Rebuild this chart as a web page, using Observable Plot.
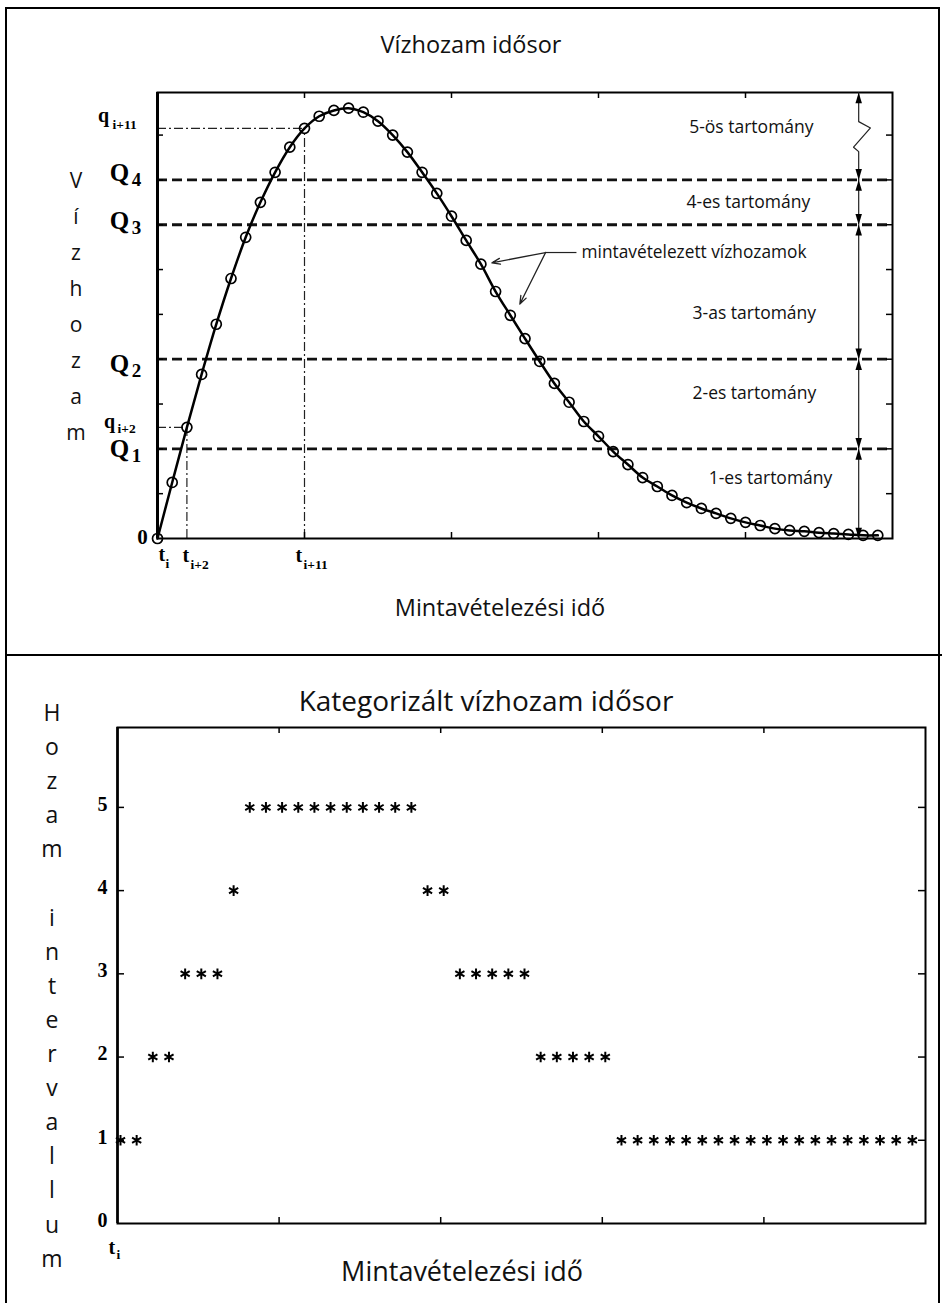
<!DOCTYPE html>
<html>
<head>
<meta charset="utf-8">
<script src="https://cdn.jsdelivr.net/npm/d3@7"></script>
<script src="https://cdn.jsdelivr.net/npm/@observablehq/plot@0.6"></script>
<style>
  body { margin: 0; background: #fff; }
  #page { position: relative; width: 942px; height: 1303px; overflow: hidden; background: #fff; font-family: "Open Sans", "Noto Sans", sans-serif; color: #111; }
  .line { position: absolute; background: #000; }
  .txt { position: absolute; white-space: nowrap; transform: translate(-50%, -50%); line-height: 1; }
  .plot { position: absolute; left: 0; }
</style>
</head>
<body>
<div id="page"></div>
<script>
// ---------------- data ----------------
const sampleIndex = [0,1,2,3,4,5,6,7,8,9,10,11,12,13,14,15,16,17,18,19,20,21,22,23,24,25,26,27,28,29,30,31,32,33,34,35,36,37,38,39,40,41,42,43,44,45,46,47,48,49];
const flowValues = [0,12.5,24.8,36.6,47.8,58,67.2,75,81.7,87.3,91.5,94.2,95.5,96,95.1,93.1,90,86.2,81.7,77,71.9,66.5,61.2,55.1,49.8,44.6,39.5,34.6,30.4,26.1,22.8,19.4,16.5,13.6,11.6,9.6,8.0,6.7,5.6,4.5,3.6,2.9,2.2,1.8,1.6,1.3,1.1,0.9,0.7,0.7];
const categoryValues = [1,1,2,2,3,3,3,4,5,5,5,5,5,5,5,5,5,5,5,4,4,3,3,3,3,3,2,2,2,2,2,1,1,1,1,1,1,1,1,1,1,1,1,1,1,1,1,1,1,1];
const thresholdNames = ["1","2","3","4"];
const thresholdValues = [20,40,70,80];
const regionNames = ["1-es tartomány","2-es tartomány","3-as tartomány","4-es tartomány","5-ös tartomány"];
const refIndex = [2, 10];
const refSubscripts = ["i+2","i+11"];
const xTickValues = [10,20,30,40];
const yTickTop = [10,20,30,40,50,60,70,80,90];
const yTickBottom = [1,2,3,4,5];
const yTickBottomLabels = ["0","1","2","3","4","5"];
const annotationText = "mintavételezett vízhozamok";
const topTitle = "Vízhozam idősor";
const bottomTitle = "Kategorizált vízhozam idősor";
const xTitle = "Mintavételezési idő";
const topYTitle = "Vízhozam";
const bottomYTitle = "Hozam intervallum";

// ---------------- layout (annotation positions in data units) ----------------
const regionPos = [[41.7,13.4],[40.6,32.4],[40.6,50.2],[40.2,75.0],[40.4,91.7]];
const annotPos = {textX: 28.85, textY: 63.8, jx: 26.4, jy: 63.8, lx: 28.5, a1: [22.75, 61.5], a2: [24.65, 52.3]};
const rangeX = 47.7;
const rangeTop = 99.5;
const zig = [[47.7,99.5],[47.7,93.0],[48.5,91.6],[47.35,87.3],[47.7,86.3],[47.7,80]];

const samples = sampleIndex.map((t, i) => ({t, q: flowValues[i], c: categoryValues[i]}));
const refs = refIndex.map((t, i) => ({t, q: flowValues[t], sub: refSubscripts[i]}));

const serif = "'Liberation Serif','Times New Roman',serif";
const sans = "'Open Sans','Noto Sans',sans-serif";
function lab(x, y, text, {dx = 0, dy = 0, size = 16, anchor = "middle", la = "middle", family = serif, weight = "bold"} = {}) {
  return Plot.text([{x, y, text}], {x: "x", y: "y", text: "text", dx, dy, fontSize: size, textAnchor: anchor, lineAnchor: la, fontFamily: family, fontWeight: weight, fill: "black"});
}
const headUp = {draw(ctx, size) { const r = Math.sqrt(size / Math.PI); ctx.moveTo(0, 0); ctx.lineTo(-0.9 * r, 3 * r); ctx.lineTo(0.9 * r, 3 * r); ctx.closePath(); }};
const headDown = {draw(ctx, size) { const r = Math.sqrt(size / Math.PI); ctx.moveTo(0, 0); ctx.lineTo(-0.9 * r, -3 * r); ctx.lineTo(0.9 * r, -3 * r); ctx.closePath(); }};

// ---------------- top chart ----------------
const topW = 942 - 157 - 50, topH = 655 - 92 - 117;
const levels = [0, ...thresholdValues];
const segs = levels.slice(0, -1).map((v, i) => ({y1: v, y2: levels[i + 1]}));
const qDy = [0, 5, -4, -7];

const topMarks = [
  Plot.ruleY(thresholdValues, {y: d => d, stroke: "#111", strokeWidth: 2.8, strokeDasharray: "10,5"}),
  Plot.ruleX(refs, {x: "t", y1: 0, y2: "q", stroke: "#222", strokeWidth: 1.2, strokeDasharray: "9,3,2,3"}),
  Plot.ruleY(refs, {y: "q", x1: 0, x2: "t", stroke: "#222", strokeWidth: 1.2, strokeDasharray: "9,3,2,3"}),
  Plot.line(samples, {x: "t", y: "q", curve: "catmull-rom", stroke: "black", strokeWidth: 2.5}),
  Plot.dot(samples, {x: "t", y: "q", r: 5, stroke: "black", strokeWidth: 1.7, fill: "none"}),
  Plot.frame({stroke: "black", strokeWidth: 2}),
  Plot.ruleX([0], {stroke: "black", strokeWidth: 3}),
  Plot.tickY(yTickTop, {y: d => d, insetRight: topW - 6, stroke: "black", strokeWidth: 1.5}),
  Plot.tickY(yTickTop, {y: d => d, insetLeft: topW - 6, stroke: "black", strokeWidth: 1.5}),
  Plot.tickX(xTickValues, {x: d => d, insetBottom: topH - 6, stroke: "black", strokeWidth: 1.5}),
  Plot.tickX(xTickValues, {x: d => d, insetTop: topH - 6, stroke: "black", strokeWidth: 1.5}),
  // range arrows on the right
  Plot.ruleX(segs, {x: () => rangeX, y1: "y1", y2: "y2", stroke: "#222", strokeWidth: 1.2}),
  Plot.line(zig, {x: d => d[0], y: d => d[1], stroke: "#222", strokeWidth: 1.2}),
  Plot.dot([0, ...thresholdValues], {x: () => rangeX, y: d => d, symbol: headDown, r: 3.6, fill: "black", stroke: "none"}),
  Plot.dot([...thresholdValues, rangeTop], {x: () => rangeX, y: d => d, symbol: headUp, r: 3.6, fill: "black", stroke: "none"}),
  // annotation arrows
  Plot.link([annotPos], {x1: "lx", y1: "jy", x2: "jx", y2: "jy", stroke: "#222", strokeWidth: 1.2}),
  Plot.arrow([annotPos.a1, annotPos.a2], {x1: () => annotPos.jx, y1: () => annotPos.jy, x2: d => d[0], y2: d => d[1], stroke: "#222", strokeWidth: 1.3, headLength: 10, headAngle: 40}),
  Plot.text([annotationText], {x: () => annotPos.textX, y: () => annotPos.textY, text: d => d, textAnchor: "start", fontFamily: sans, fontSize: 17.3, fill: "#111"}),
  Plot.text(regionNames, {x: (d, i) => regionPos[i][0], y: (d, i) => regionPos[i][1], text: d => d, fontFamily: sans, fontSize: 17.5, fill: "#111"}),
  lab(0, 0, "0", {dx: -15, dy: -1, size: 21})
];
thresholdValues.forEach((v, i) => {
  topMarks.push(lab(0, v, "Q", {dx: -38, dy: qDy[i], size: 25}));
  topMarks.push(lab(0, v, thresholdNames[i], {dx: -21, dy: qDy[i] + 7, size: 19}));
});
// q reference labels
const qDx = [[-48, -40], [-54, -45]];
const qDyb = [[1, 6], [-6, 1]];
refs.forEach((r, i) => {
  topMarks.push(lab(0, r.q, "q", {dx: qDx[i][0], dy: qDyb[i][0], size: 20, la: "bottom"}));
  topMarks.push(lab(0, r.q, r.sub, {dx: qDx[i][1], dy: qDyb[i][1], size: 13.5, anchor: "start", la: "bottom"}));
});
// t labels
topMarks.push(lab(0, 0, "t", {dx: 1, dy: 22, size: 20, anchor: "start", la: "bottom"}));
topMarks.push(lab(0, 0, "i", {dx: 8, dy: 29, size: 13.5, anchor: "start", la: "bottom"}));
const tDx = [[-4.5, 3.6], [-9, -1]];
refs.forEach((r, i) => {
  topMarks.push(lab(r.t, 0, "t", {dx: tDx[i][0], dy: 23, size: 20, anchor: "start", la: "bottom"}));
  topMarks.push(lab(r.t, 0, r.sub, {dx: tDx[i][1], dy: 30, size: 13.5, anchor: "start", la: "bottom"}));
});

const topPlot = Plot.plot({
  width: 942, height: 655,
  marginLeft: 157, marginRight: 50, marginTop: 92, marginBottom: 117,
  x: {domain: [0, 50], axis: null},
  y: {domain: [0, 99.5], axis: null},
  style: {background: "transparent", overflow: "visible"},
  marks: topMarks
});

// ---------------- bottom chart ----------------
const botW = 942 - 117 - 17, botH = 1223 - 727;
const botPlot = Plot.plot({
  width: 942, height: 648,
  marginLeft: 117, marginRight: 17, marginTop: 72, marginBottom: 80,
  x: {domain: [0, 50], axis: null},
  y: {domain: [0, 5.96], axis: null},
  style: {background: "transparent", overflow: "visible"},
  marks: [
    Plot.frame({stroke: "black", strokeWidth: 2}),
    Plot.ruleX([0], {stroke: "black", strokeWidth: 2.6}),
    Plot.tickY(yTickBottom, {y: d => d, insetRight: botW - 7, stroke: "black", strokeWidth: 1.5}),
    Plot.tickY(yTickBottom, {y: d => d, insetLeft: botW - 7, stroke: "black", strokeWidth: 1.5}),
    Plot.tickX(xTickValues, {x: d => d, insetBottom: botH - 6, stroke: "black", strokeWidth: 1.5}),
    Plot.tickX(xTickValues, {x: d => d, insetTop: botH - 6, stroke: "black", strokeWidth: 1.5}),
    Plot.dot(samples, {x: "t", y: "c", symbol: "asterisk", r: 5, stroke: "black", strokeWidth: 2, dx: 3}),
    Plot.text(yTickBottomLabels, {x: () => 0, y: (d, i) => i, text: d => d, dx: -15, dy: -3, fontSize: 20, fontFamily: serif, fontWeight: "bold", fill: "black"}),
    lab(0, 0, "t", {dx: -9, dy: 30, size: 20, anchor: "start", la: "bottom"}),
    lab(0, 0, "i", {dx: -1, dy: 35, size: 13.5, anchor: "start", la: "bottom"})
  ]
});

// ---------------- page assembly ----------------
const page = document.getElementById("page");
function addLine(l, t, w, h) { const d = document.createElement("div"); d.className = "line"; Object.assign(d.style, {left: l + "px", top: t + "px", width: w + "px", height: h + "px"}); page.appendChild(d); }
function addText(text, cx, cy, size, extra = {}) { const d = document.createElement("div"); d.className = "txt"; d.textContent = text; Object.assign(d.style, {left: cx + "px", top: cy + "px", fontSize: size + "px"}, extra); page.appendChild(d); }

topPlot.classList.add("plot"); topPlot.style.top = "0px";
botPlot.classList.add("plot"); botPlot.style.top = "655px";
page.appendChild(topPlot);
page.appendChild(botPlot);

addLine(5, 7, 935, 2);
addLine(5, 7, 2, 1296);
addLine(938, 7, 2, 1296);
addLine(5, 654, 937, 2);

addText(topTitle, 471, 45, 23.5);
addText(xTitle, 500, 608, 23.5);
addText(bottomTitle, 486, 700, 28);
addText(xTitle, 462, 1270, 27);

[...topYTitle].forEach((ch, i) => addText(ch, 76, 180 + 36 * i, 21));
[...bottomYTitle].forEach((ch, i) => { if (ch !== " ") addText(ch, 52, 712 + 34.1 * i, 23); });
</script>
</body>
</html>
